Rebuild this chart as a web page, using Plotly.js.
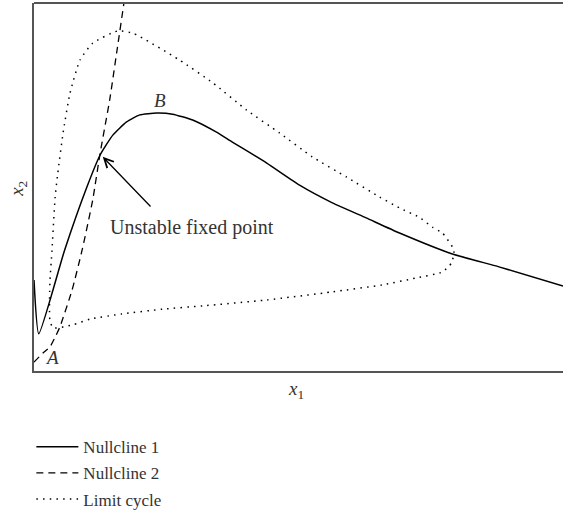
<!DOCTYPE html>
<html>
<head>
<meta charset="utf-8">
<script src="https://cdn.plot.ly/plotly-3.0.1.min.js"></script>
<style>html,body{margin:0;padding:0;background:#fff;}#chart{width:563px;height:514px;}</style>
</head>
<body>
<div id="chart"></div>
<script>
// Nullcline 1 (solid)
const null1X = [0, 0.09, 0.58, 1.00, 1.25, 1.49, 1.75, 2.00, 2.32, 2.62, 3.00, 3.45, 3.75, 4.40, 5.02, 5.64, 6.28, 6.91, 7.91, 8.79, 10];
const null1Y = [2.47, 1.01, 3.29, 5.00, 5.87, 6.41, 6.77, 6.96, 7.01, 6.98, 6.82, 6.49, 6.22, 5.65, 5.05, 4.57, 4.16, 3.75, 3.18, 2.83, 2.31];
// Nullcline 2 (dashed)
const null2X = [0, 0.17, 0.30, 0.40, 0.49, 0.72, 0.91, 1.11, 1.25, 1.43, 1.57, 1.70, 1.73];
const null2Y = [0.24, 0.49, 0.65, 0.92, 1.20, 2.20, 3.29, 4.65, 5.92, 7.36, 8.72, 10.0, 10.3];
// Limit cycle (dotted, closed)
const cycX = [1.58, 1.11, 0.87, 0.68, 0.55, 0.45, 0.40, 0.34, 0.30, 0.30, 0.36, 0.72, 1.06, 1.66, 2.43, 3.19, 4.40, 5.64, 6.58, 7.23, 7.72, 7.89, 7.94, 7.91, 7.72, 7.53, 7.28, 6.91, 6.53, 5.91, 5.26, 4.64, 4.02, 3.38, 2.75, 1.87, 1.58];
const cycY = [9.24, 8.91, 8.45, 7.55, 6.47, 5.38, 4.73, 3.29, 2.39, 1.39, 1.17, 1.25, 1.41, 1.55, 1.68, 1.77, 1.93, 2.15, 2.34, 2.53, 2.69, 2.93, 3.21, 3.37, 3.75, 3.91, 4.18, 4.43, 4.73, 5.27, 5.82, 6.47, 7.09, 7.83, 8.45, 9.18, 9.24];
const seriesNames = ['Nullcline 1', 'Nullcline 2', 'Limit cycle'];

const serif = 'Liberation Serif, Times New Roman, serif';
const traces = [
  {x: null1X, y: null1Y, name: seriesNames[0], legendgroup: 'a', mode: 'lines', line: {color: '#000', width: 1.5, shape: 'spline', smoothing: 0.5}},
  {x: null2X, y: null2Y, name: seriesNames[1], legendgroup: 'b', mode: 'lines', line: {color: '#000', width: 1.3, dash: '7px,5px', shape: 'spline', smoothing: 0.5}},
  {x: cycX, y: cycY, name: seriesNames[2], legendgroup: 'c', mode: 'lines', line: {color: '#000', width: 1.5, dash: '1.5px,5.2px', shape: 'spline', smoothing: 0.5}}
];

const layout = {
  width: 563, height: 514,
  margin: {l: 34, r: 0, t: 3, b: 143, autoexpand: false},
  paper_bgcolor: '#fff', plot_bgcolor: '#fff',
  font: {family: serif, size: 17, color: '#333'},
  showlegend: true,
  legend: {x: -0.005, xanchor: 'left', y: -0.158, yanchor: 'top', bgcolor: 'rgba(0,0,0,0)', font: {family: serif, size: 17, color: '#333'}, traceorder: 'grouped', tracegroupgap: 1, itemwidth: 42},
  xaxis: {range: [0, 10], showgrid: false, zeroline: false, showticklabels: false, ticks: '', showline: true, linecolor: '#555', linewidth: 2},
  yaxis: {range: [0, 10], showgrid: false, zeroline: false, showticklabels: false, ticks: '', showline: true, linecolor: '#555', linewidth: 2},
  shapes: [{type: 'line', xref: 'paper', yref: 'paper', x0: 0, x1: 1, y0: 1, y1: 1, line: {color: '#555', width: 2}}],
  annotations: [
    {xref: 'paper', yref: 'paper', x: 0.495, y: 0, yanchor: 'top', yshift: -5, showarrow: false, text: '<i>x</i><sub>1</sub>', font: {family: serif, size: 19, color: '#333'}},
    {xref: 'paper', yref: 'paper', x: 0, y: 0.495, xanchor: 'right', xshift: -2, textangle: -90, showarrow: false, text: '<i>x</i><sub>2</sub>', font: {family: serif, size: 19, color: '#333'}},
    {x: 2.38, y: 7.36, showarrow: false, text: '<i>B</i>', font: {family: serif, size: 19, color: '#333'}},
    {x: 0.34, y: 0.38, showarrow: false, text: '<i>A</i>', font: {family: serif, size: 19, color: '#333'}},
    {x: 2.98, y: 3.90, showarrow: false, text: 'Unstable fixed point', font: {family: serif, size: 20, color: '#333'}},
    {x: 1.30, y: 5.82, ax: 2.23, ay: 4.43, axref: 'x', ayref: 'y', showarrow: true, text: '', arrowhead: 5, arrowsize: 1.4, arrowwidth: 1.3, arrowcolor: '#000', standoff: 0}
  ]
};

Plotly.newPlot('chart', traces, layout, {displayModeBar: false, staticPlot: true});
</script>
</body>
</html>
